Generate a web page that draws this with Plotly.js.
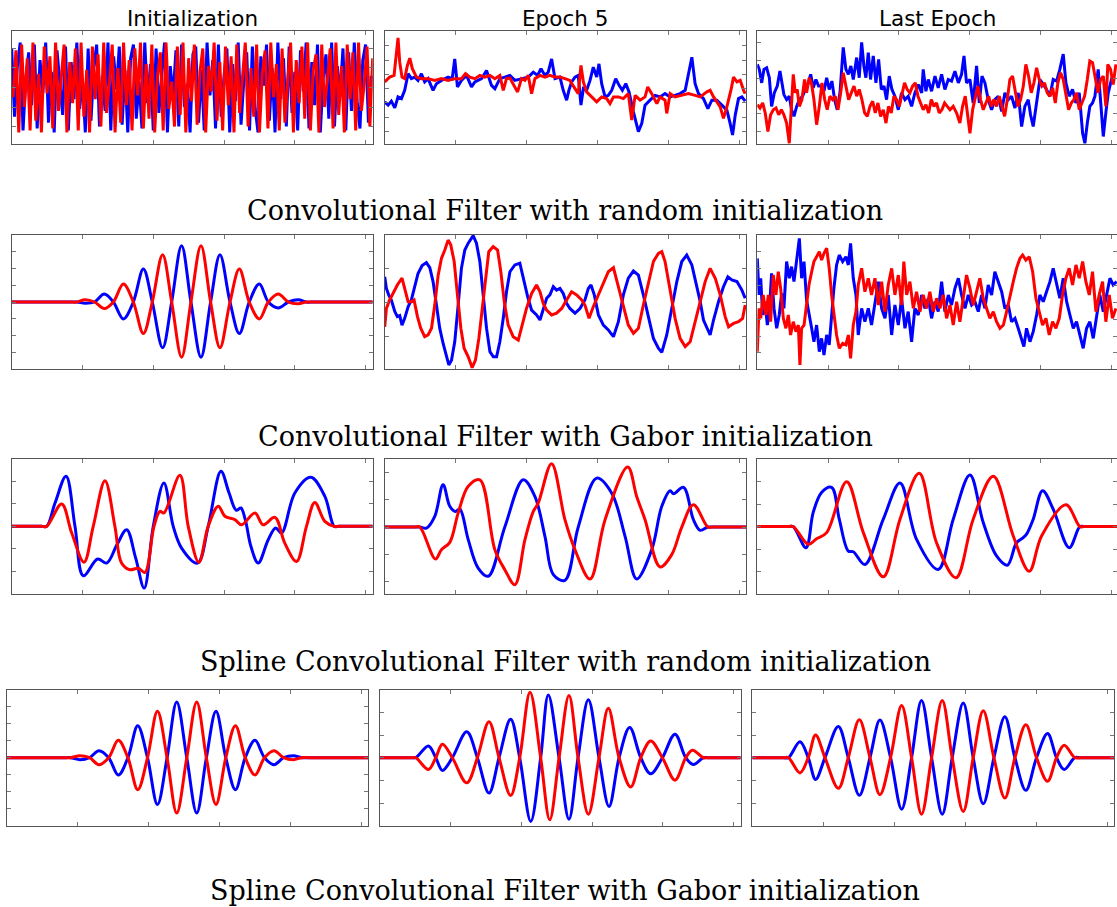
<!DOCTYPE html>
<html><head><meta charset="utf-8">
<script src="https://cdn.plot.ly/plotly-3.0.1.min.js"></script>
<style>html,body{margin:0;padding:0;background:#fff}#chart{width:1117px;height:907px}</style>
</head><body><div id="chart"></div>
<script>
// ---------------- labels ----------------
const columnTitles = ["Initialization", "Epoch 5", "Last Epoch"];
const rowCaptions = [
  "Convolutional Filter with random initialization",
  "Convolutional Filter with Gabor initialization",
  "Spline Convolutional Filter with random initialization",
  "Spline Convolutional Filter with Gabor initialization"
];
const xTickValues = [50, 100, 150, 200, 250];

// ---------------- Row 1: conv filter, random init ----------------
// Initialization: values read every 2 taps
const convRandInit_blue = [2.0,-1.5,1.1,2.3,-2.2,0.5,1.8,-0.9,2.2,-2.1,
 1.4,-0.3,2.3,-1.8,0.8,-2.3,1.9,0.2,-1.4,2.1,
 -2.2,1.3,-0.6,2.3,-1.1,0.4,-2.3,2.0,-1.7,1.0,
 2.2,-2.0,0.6,-1.2,2.3,-2.2,1.6,-0.1,2.1,-1.9,
 0.9,-2.3,1.5,2.2,-1.6,0.3,-2.1,2.3,-0.8,1.2,
 -2.2,2.0,-1.3,0.7,2.3,-2.3,1.1,-0.5,1.9,-2.0,
 2.2,-1.0,0.2,-2.3,1.7,2.1,-1.8,0.9,-2.2,2.3,
 -0.4,1.4,-2.1,2.2,-1.5,0.6,2.0,-2.3,1.2,-0.7,
 2.3,-1.9,0.4,1.8,-2.2,2.1,-1.1,-2.3,1.6,0.1,
 2.2,-1.7,1.0,-2.3,2.3,-0.6,1.5,-2.0,2.1,-1.3,
 0.8,-2.2,1.9,-0.2,2.3,-2.1,1.3,-0.9,2.2,-2.3,
 0.5,1.7,-1.6,2.3,-2.0,1.1,-0.4,2.0,-2.2,1.8,
 -1.2,2.3,-0.7,-2.1,1.4,2.2,-1.8,0.6];
const convRandInit_red = [-0.5,1.9,-2.3,2.2,-1.0,1.5,-2.2,2.3,-1.7,0.7,
 -2.3,2.1,-0.3,1.6,-2.1,2.3,-1.2,0.4,2.2,-2.3,
 1.3,-0.8,2.0,-2.2,2.3,-1.5,0.9,-2.3,2.1,-0.6,
 1.7,-2.0,2.3,-1.3,0.2,2.2,-2.3,1.0,-1.8,2.3,
 -0.9,1.4,-2.2,2.0,-0.4,2.3,-2.1,1.2,-1.6,2.2,
 -2.3,0.6,1.8,-2.2,2.3,-1.1,0.3,-2.0,2.1,-1.4,
 2.3,-2.3,1.5,-0.7,2.2,-1.9,0.8,2.0,-2.3,1.1,
 -0.2,2.3,-1.7,1.3,-2.2,2.1,-0.9,1.6,-2.3,2.2,
 -1.3,0.5,2.3,-2.0,1.0,-1.5,2.2,-2.3,0.7,1.9,
 -2.1,2.3,-0.5,1.2,-2.2,2.0,-1.8,0.3,2.3,-2.3,
 1.4,-0.8,2.1,-1.6,2.3,-2.2,0.9,1.7,-2.3,2.2,
 -1.0,0.4,2.0,-2.1,2.3,-1.4,1.1,-2.3,2.2,-0.6,
 1.8,-2.2,2.3,-1.2,0.2,2.1,-2.0,1.5];

const convRandEp5_bx = [0,2.4,4.7,7.1,9.4,11.8,14.1,16.5,18.8,21.2,23.5,25.9,28.2,30.6,34.1,36.5,40.0,44.7,47.6,49.4,51.3,54.1,57.7,61.2,63.6,68.3,71.8,75.3,77.7,81.2,84.7,88.3,91.8,96.5,101.2,104.8,107.8,110.2,113.0,115.3,117.7,120.1,123.6,125.9,128.3,129.9,131.8,134.2,136.5,138.4,140.1,142.4,144.8,147.1,149.5,151.1,153.0,155.4,157.7,160.1,162.9,165.3,167.6,170.0,172.3,175.4,178.9,181.3,183.6,187.1,190.7,194.2,197.7,201.3,204.8,208.3,211.9,214.7,216.6,218.9,221.3,224.8,227.9,230.7,234.2,237.8,241.3,243.6,245.3,247.2,249.5,251.9,254.2];
const convRandEp5_by = [-0.93,-1.16,-0.88,-1.35,-0.58,-0.70,-0.12,1.05,0.70,0.81,0.58,1.05,0.47,0.70,-0.12,0.35,0.58,0.81,0.70,2.09,0.12,0.58,0.93,0.12,0.47,0.70,1.28,0.23,0,0.70,0.81,0.93,0.58,0.70,0.81,1.16,0.93,1.40,0.93,1.16,2.09,0.70,0.81,-0.12,-0.81,-0.12,0.47,0.81,0.93,-1.16,0,-0.12,0.58,1.51,0.81,1.74,0.35,-0.58,-0.47,-0.12,0.70,0.23,-0.12,0.35,-0.23,-1.63,-3.02,-2.44,-1.16,-0.81,-0.47,-0.58,-0.35,-0.58,-0.47,-0.35,-0.12,1.16,2.21,0.35,-0.35,-0.70,-1.40,-0.81,-0.81,-1.16,-1.51,-2.44,-3.26,-1.86,-0.70,-0.58,-0.88];
const convRandEp5_rx = [0,3.5,6.6,8.2,9.4,10.6,12.2,14.1,16.0,17.7,19.5,22.4,25.9,30.6,35.3,40.0,44.7,49.4,54.1,57.0,60.0,63.6,67.1,70.6,74.2,77.7,81.2,83.6,85.9,88.3,90.6,93.7,96.5,98.9,101.2,103.6,105.9,109.5,113.0,116.5,120.1,123.6,127.1,130.6,134.2,136.5,138.4,140.1,142.4,145.9,149.5,153.0,156.5,158.9,161.3,164.8,168.3,171.8,174.2,176.6,180.1,183.6,185.5,188.3,191.9,194.2,197.7,198.9,201.3,204.8,209.5,214.2,218.9,222.5,227.2,229.5,231.9,234.2,236.6,238.9,241.3,244.4,246.0,248.4,250.7,253.1,254.2];
const convRandEp5_ry = [0.47,0.81,0.93,2.33,3.56,1.86,0.81,0.70,1.63,2.14,1.40,0.81,0.70,0.70,0.58,0.70,0.58,0.70,0.70,1.05,0.81,0.70,0.93,0.81,0.93,0.70,0.93,-0.12,0.70,0.74,0.35,-0.23,0.70,0.58,0.93,-0.35,0.70,0.93,0.81,0.93,0.81,0.81,0.70,0.58,0,-0.35,1.63,0.47,-0.23,-0.58,-0.93,-0.58,-0.70,-1.05,-0.58,-0.58,-0.70,-0.35,-2.21,-0.47,-0.81,-0.58,0.12,-0.35,-1.05,-0.58,-0.81,-1.74,-0.35,-0.58,-0.47,-0.35,-0.47,-0.58,-0.23,-0.12,-0.58,-0.93,-1.28,-2.09,-1.28,0,0.81,0.47,0.58,-0.12,-0.35];

const convRandLast_bx = [0,1.4,3.1,4.7,6.6,8.5,10.1,12.0,14.1,16.0,17.2,18.8,20.7,22.6,24.2,25.9,27.8,29.7,32.0,33.9,36.0,37.7,39.5,41.4,43.3,45.4,47.1,49.0,50.8,52.7,54.6,56.5,58.4,60.7,62.6,64.3,66.1,67.8,70.2,72.0,73.7,75.3,76.7,78.4,80.0,81.9,83.8,85.7,87.6,89.5,91.3,93.2,95.1,97.2,99.6,101.9,104.3,106.6,109.0,111.3,113.7,116.1,117.2,119.1,120.8,123.1,125.5,127.8,130.2,132.5,134.9,137.2,139.6,142.0,144.3,146.0,147.8,150.2,152.5,154.9,156.8,158.7,160.8,163.1,165.5,167.8,170.2,172.6,174.9,177.3,179.6,182.0,184.3,186.7,189.0,191.4,193.0,194.9,197.3,199.6,202.0,204.3,206.7,209.0,211.4,213.7,216.1,218.0,220.3,222.7,225.0,227.4,229.8,231.4,233.1,234.9,236.8,238.5,240.8,242.5,244.4,246.2,247.9,250.2,252.6];
const convRandLast_by = [1.30,1.02,0.26,1.02,1.11,0.55,-1.06,-0.30,0.08,0.92,0.36,-0.40,-0.68,-0.49,-1.25,-1.62,-1.06,-0.68,-0.49,-0.11,0.26,0.74,-0.02,0.45,0.08,0.08,-0.21,0.55,-0.11,0.36,-0.68,-1.25,-0.30,2.25,1.02,0.74,1.21,0.45,1.68,0.55,2.53,1.21,0.55,1.96,0.45,1.77,0.26,1.58,-0.11,0.08,-0.68,0.64,-0.11,-0.49,-1.25,-0.30,-0.68,-0.49,-1.06,-0.30,0.17,-0.30,1.02,-0.21,0.45,-0.21,0.64,-0.02,0.74,-0.11,0.45,0.36,0.92,0.26,0.74,1.77,0.26,0.45,-0.87,1.21,-0.87,0.64,0.26,-0.68,-1.25,-0.68,-0.49,-1.34,-0.30,-0.68,-0.49,-1.15,-0.30,-2.19,-1.06,-0.68,-1.53,-2.19,-0.68,0.45,0.17,-0.11,-0.49,0.45,0.36,1.02,1.87,0.26,-0.49,-0.11,-0.87,-0.30,-2.57,-3.13,-2.0,-1.06,-0.87,-0.49,1.02,-0.68,-2.75,-1.43,-0.30,0.45,0.36];
const convRandLast_rx = [0,1.9,3.8,5.6,7.5,9.4,11.3,13.2,15.1,17.0,18.8,20.7,22.6,24.0,25.4,26.8,28.2,29.7,31.5,33.4,34.8,36.7,38.4,40.0,41.9,43.8,45.7,47.6,49.4,51.3,53.2,55.1,57.0,58.9,60.7,62.6,64.5,66.4,68.3,70.2,72.0,73.9,75.8,77.7,79.6,81.5,83.3,85.2,87.1,89.0,90.9,92.7,94.6,96.5,98.4,100.3,102.2,104.0,105.9,107.8,109.7,111.6,113.5,115.3,117.2,119.1,121.0,122.9,124.8,126.6,128.5,130.4,132.3,134.2,136.1,138.4,140.8,143.1,145.0,146.9,148.8,150.2,152.1,154.0,155.8,157.7,159.6,161.5,163.4,165.3,167.1,169.0,170.9,172.8,174.7,176.6,178.4,180.3,182.2,184.1,186.0,187.9,189.7,191.6,193.5,195.4,197.3,199.2,201.0,202.9,204.8,206.7,208.6,210.5,212.3,214.2,216.1,218.0,219.9,221.8,223.6,225.5,227.4,229.3,231.2,233.1,234.9,236.8,238.7,240.6,242.5,244.4,246.2,247.6,249.5,251.4,253.3];
const convRandLast_ry = [-0.96,-1.15,-0.87,-1.43,-2.47,-1.53,-1.25,-1.15,-1.53,-1.25,-1.53,-2.0,-3.13,-1.25,0.74,-0.30,-0.11,-1.06,-0.68,0.45,-0.30,0.55,0.17,-0.68,-2.09,-1.06,0.26,-0.68,-1.25,-0.49,-0.68,-0.49,-1.25,-0.30,0.83,0.08,-0.68,-0.30,0.08,-0.49,-0.11,-0.68,-1.43,-1.62,-1.06,-0.77,-1.43,-0.87,-1.62,-1.25,-2.0,-1.06,-1.43,-0.49,-0.68,-1.06,-0.30,0.26,-0.11,-0.30,0.08,0.26,-0.49,-0.87,-1.25,-0.96,-1.43,-0.68,-1.06,-0.87,-1.43,-1.25,-0.87,-1.06,-1.25,-1.06,-1.43,-2.0,-1.06,-0.49,-1.62,-2.57,-1.25,-0.49,0.08,-0.68,-1.25,-0.87,-0.49,-1.06,-0.68,-1.06,-0.49,-1.06,-1.62,-0.68,0.45,0.64,-0.30,-1.06,-0.68,0.08,1.30,0.64,-0.30,0.26,1.11,0.45,0.08,0.26,-0.30,-0.49,-0.02,-0.87,0.26,0.83,0.45,-0.49,-1.25,-0.87,-0.68,-0.30,-1.25,-0.87,-0.49,0.45,1.49,1.40,0.45,-0.30,0.45,0.64,-1.06,1.30,1.02,0.17,1.30];

// ---------------- Row 2: conv filter, Gabor init ----------------
const convGaborInit_bx = [0,40,46,52,58.5,65.4,71.8,78.9,85.9,93.0,99.3,106.6,113.0,120.0,126.6,133.7,140.5,147.1,154.2,160.8,167.8,174.9,181.3,188.3,195.4,202.4,208,214,255];
const convGaborInit_by = [0,0,0,-0.08,0,0.47,0,-1.0,0,1.94,0,-2.7,0,3.31,0,-3.25,0,2.78,0,-1.86,0,1.06,0,-0.35,0,0.14,0,0,0];
const convGaborInit_rx = [0,40,46,51.8,58.5,65.4,71.8,78.9,85.9,93.0,99.3,106.6,113.0,120.0,126.6,133.7,140.5,147.1,154.2,160.8,167.8,174.9,181.3,188.3,195.4,202.4,208,214,255];
const convGaborInit_ry = [0,0,0,0.14,0,-0.39,0,1.06,0,-1.86,0,2.78,0,-3.25,0,3.31,0,-2.7,0,1.94,0,-1.0,0,0.47,0,-0.1,0,0,0];

const convGaborEp5_bx = [0,1.2,2.8,4.7,7.1,8.9,10.6,12.2,14.1,16.5,18.8,21.2,23.5,26.4,29.4,31.8,34.1,36.5,38.8,41.2,43.6,45.2,47.1,49.4,51.8,54.1,56.5,58.9,62.4,64.7,67.1,69.4,71.8,74.2,76.6,78.9,81.2,83.6,85.9,88.3,91.8,95.3,98.2,100.8,103.6,107.1,109.5,111.8,114.2,116.5,118.9,121.2,123.6,125.9,128.3,130.6,134.2,137.7,141.2,143.6,145.5,147.8,150.7,154.2,157.7,161.3,164.8,168.3,171.8,175.4,178.9,182.4,186.0,189.5,193.0,195.4,198.9,202.4,206.0,209.5,213.0,216.6,220.1,222.5,224.8,227.2,229.5,231.9,235.4,238.9,242.0,244.8,248.4,251.9,254.2];
const convGaborEp5_by = [0.76,0.42,0.23,0.08,-0.26,-0.41,-0.38,-0.66,-0.46,-0.12,0.08,0.47,0.86,1.09,1.18,1.03,0.62,-0.07,-0.75,-1.2,-1.59,-1.83,-1.69,-1.15,-0.07,1.01,1.55,1.75,1.97,1.75,1.21,0.23,-0.75,-1.44,-1.59,-1.59,-1.15,-0.46,0.32,0.91,1.11,1.16,0.62,0.18,-0.22,-0.36,-0.51,-0.17,0.13,0.23,0.47,0.37,0.42,0.27,-0.02,-0.17,-0.31,-0.17,0.08,0.42,0.52,0.23,-0.36,-0.66,-0.8,-1.0,-0.56,0.23,0.72,0.93,0.81,0.23,-0.46,-1.05,-1.34,-1.46,-0.95,-0.17,0.62,1.21,1.4,1.11,0.47,0.03,-0.51,-0.75,-0.95,-0.51,0.03,0.47,0.76,0.67,0.62,0.37,0.13];
const convGaborEp5_rx = [0,1.2,3.5,5.9,8.9,12.2,14.6,16.5,18.8,20.7,23.1,25.4,28.2,30.6,33.0,35.3,37.7,40.0,42.4,44.7,46.6,49.0,51.3,53.7,56.0,58.9,61.7,64.0,66.4,68.7,71.1,73.4,76.5,79.6,81.9,84.3,87.1,90.6,94.2,96.5,100.0,103.6,107.1,109.5,111.8,114.2,117.7,121.2,124.8,128.3,131.8,135.4,138.9,141.2,144.1,147.1,150.7,154.2,157.7,161.3,164.8,168.3,171.8,175.4,178.9,182.4,186.0,189.5,193.0,195.4,197.7,201.3,204.8,208.3,211.9,215.4,218.9,222.5,226.0,229.5,233.1,236.6,240.1,242.5,246.0,249.5,252.4,254.2];
const convGaborEp5_ry = [-0.71,-0.17,0.08,0.27,0.52,0.72,0.37,0.03,0.03,0.08,-0.41,-0.75,-1.0,-0.95,-0.75,-0.07,0.81,1.3,1.55,1.84,1.7,1.21,0.23,-0.75,-1.34,-1.59,-1.91,-1.69,-1.05,-0.17,0.72,1.5,1.65,1.55,0.91,0.03,-0.66,-1.0,-1.1,-0.75,-0.17,0.27,0.52,0.32,-0.02,-0.22,-0.36,-0.31,-0.17,0.08,0.32,0.23,0.08,-0.07,-0.46,-0.12,0.23,0.62,0.91,1.03,0.47,-0.17,-0.66,-0.9,-0.75,-0.07,0.62,1.21,1.45,1.5,1.21,0.42,-0.46,-1.05,-1.29,-1.15,-0.56,0.08,0.62,1.01,0.72,0.23,-0.41,-0.71,-0.61,-0.56,-0.46,-0.07];

const convGaborLast_bx = [0,1.2,2.4,3.8,5.4,7.1,8.5,10.1,11.8,13.7,15.5,17.2,18.8,20.7,22.6,24.2,25.9,27.8,29.7,31.3,33.0,34.8,36.5,38.4,40.0,41.9,43.8,45.4,47.1,49.0,50.8,52.5,54.1,56.0,57.9,60.3,62.6,64.3,65.9,67.8,69.7,71.3,73.7,76.0,78.4,80.7,83.1,85.5,87.8,90.2,92.5,94.9,97.2,99.6,101.9,104.3,106.6,109.0,111.3,113.7,116.1,118.4,120.8,123.1,125.5,127.8,130.2,132.5,134.9,137.2,139.6,142.0,144.3,146.7,149.0,151.4,153.7,156.1,158.4,160.8,163.1,165.5,167.8,170.2,172.6,174.9,177.3,179.6,182.0,184.3,186.7,188.3,190.2,192.6,194.9,197.3,199.6,202.0,204.3,206.7,209.0,211.4,213.7,216.1,218.5,220.8,223.2,225.5,227.9,230.2,232.6,234.9,237.3,239.6,242.0,244.4,246.7,249.1,251.4,253.8];
const convGaborLast_by = [2.61,0.44,1.43,-0.75,0.04,-1.35,-0.55,1.72,-0.36,-1.54,-0.75,0.53,-0.36,2.42,1.43,2.12,1.23,2.61,3.80,1.43,2.42,0.14,-0.55,-1.54,-2.34,-1.35,-2.93,-2.14,-3.13,-1.94,-2.53,-0.75,0.83,2.22,2.81,2.42,2.71,2.22,3.50,1.43,0.44,-1.94,-0.36,-1.15,-0.36,-1.35,-0.16,1.23,-0.36,-0.95,0.44,-1.94,-0.16,-1.35,0.24,-1.54,-0.55,-2.34,-0.36,-0.75,0.44,-0.36,0.24,-0.95,0.04,-0.55,1.23,-0.55,0.44,-0.16,0.83,1.43,0.44,-0.36,0.44,-0.16,0.04,-0.55,0.44,-0.36,1.03,0.44,1.82,1.23,0.63,-0.36,-0.16,-1.15,-0.95,-1.54,-2.14,-2.63,-1.54,-2.34,-1.74,-0.75,0.44,0.04,0.63,1.23,2.02,1.03,0.24,1.43,0.04,-0.75,-1.54,-1.15,-1.94,-2.73,-1.54,-1.15,-2.14,-0.75,0.44,-0.55,0.44,1.43,1.03,1.23];
const convGaborLast_rx = [0,1.2,2.4,4.2,6.1,7.8,9.4,11.3,13.2,14.8,16.5,18.4,20.2,21.9,23.5,25.4,27.3,29.0,30.1,31.3,33.0,34.8,36.5,38.4,40.0,41.9,43.8,45.4,47.1,49.0,50.8,52.5,54.1,56.0,57.9,60.3,62.6,64.3,65.9,67.8,69.7,71.3,73.7,76.0,78.4,80.7,83.1,85.5,87.8,90.2,92.5,94.9,97.2,99.6,101.9,103.5,105.5,107.8,110.2,112.5,114.9,117.2,119.6,121.9,124.3,126.7,129.0,131.4,133.7,136.1,138.4,140.8,143.1,145.5,147.8,150.2,152.5,154.9,157.2,159.6,162.0,164.3,166.7,169.0,171.4,173.8,176.1,178.5,180.8,183.1,185.5,187.4,189.7,192.1,194.5,196.8,199.2,201.5,203.9,206.2,208.6,210.9,213.3,215.6,218.0,220.3,222.7,225.1,227.4,229.8,232.1,234.5,236.8,239.2,241.5,243.9,246.2,248.6,250.9,253.3];
const convGaborLast_ry = [-2.93,-0.36,-0.95,0.44,-0.75,0.44,-1.15,1.62,0.44,1.82,0.83,-0.95,-1.54,-0.75,-1.94,-1.15,-1.74,-1.35,-3.72,-1.54,-1.35,-0.16,1.03,1.82,2.42,2.71,3.01,2.51,2.91,3.21,2.02,0.44,-0.55,-1.94,-2.73,-2.44,-2.53,-1.94,-3.33,-1.35,-0.55,1.03,2.02,0.63,1.43,0.44,1.43,-0.16,1.23,-0.55,1.03,2.02,0.44,1.62,-0.16,2.42,0.44,1.23,-0.36,0.63,-0.55,0.44,-0.36,0.63,-0.55,0.24,-0.36,0.44,-0.95,-0.16,-1.35,0.04,-1.15,0.44,1.62,0.83,-0.16,0.63,1.43,0.24,-0.36,-0.95,-0.55,-1.15,-1.54,-1.35,-0.55,0.44,1.23,2.02,2.61,2.81,2.51,2.71,1.82,0.24,-0.55,-1.35,-0.95,-1.94,-1.15,-1.54,-0.95,0.44,1.43,2.02,1.03,2.22,1.43,2.42,1.23,0.44,1.82,-0.55,0.44,1.23,-1.15,0.44,-0.95,-0.36];

// ---------------- Row 3: spline conv filter, random init ----------------
const splineRandInit_bx = [0,21,24.7,30.6,38.4,44.7,50.6,60.7,67.1,74.5,81.2,87.5,93.6,100,107.5,114.1,120,131.3,138.8,147.8,153.5,158.6,161.9,165,169,174.1,181.2,186.4,190.6,200,211.3,221.2,227.8,231,255];
const splineRandInit_by = [0,0,0,1.04,2.24,0,-2.21,-1.46,-1.64,-0.8,-0.15,-1.4,-2.76,0,1.94,0,-0.97,-1.64,0,2.46,1.5,0.72,0.82,0.3,-0.9,-1.64,-0.6,-0.07,-0.30,1.49,2.19,1.34,0,0,0];
const splineRandInit_rx = [0,21,24.7,35.3,42.4,51.1,57.6,65.9,72.9,77.6,83.5,89.4,94.1,100.5,104.7,107.5,118.8,124.7,132.2,138.8,145.9,150.6,157.6,162.4,171.8,177.6,185.9,192.9,201.2,208.2,214.1,221.2,227.8,231,255];
const splineRandInit_ry = [0,0,0,1.0,-0.3,-1.6,0,2.04,0,-1.64,-1.94,-1.87,-2.06,0,0.67,0.6,2.28,0,-1.61,0,0.9,0.45,0.3,0.07,0.6,0.07,0.4,-0.75,-1.57,0,1.07,0.22,0,0,0];

const splineRandEp5_bx = [0,21,24.7,29.4,35.3,41.2,45.9,49.9,53,58.9,65.9,73,84.7,97.7,105.9,113,118.9,127.1,136.5,149.5,160.1,169.5,177.7,188.3,195.4,201.3,203.6,210.7,217.7,222.5,227.9,231,255];
const splineRandEp5_by = [0,0,0,-0.04,0.39,1.55,0.76,0.57,0.66,-0.46,-1.5,-1.8,0,1.73,1.12,-0.34,-1.74,-1.95,0,1.79,1.24,-0.34,-1.9,-0.83,0.76,1.33,1.22,1.45,0.27,-0.12,0,0,0];
const splineRandEp5_rx = [0,21,24.7,35.8,40,45.9,51.8,58.9,67.1,77.7,84.7,91.8,98.9,104.8,108.3,117.7,127.1,134.2,144.8,155.4,171.4,177.7,183.6,194.2,202.4,209.5,217.7,227.9,231,255];
const splineRandEp5_ry = [0,0,0,-1.17,-0.83,-0.56,0.51,1.49,1.73,-0.83,-1.56,-2.11,-0.46,0.57,0.88,2.32,0.27,-0.83,-1.9,0.27,2.2,1.12,0.27,-1.46,-1.01,0,0.82,0,0,0];

const splineRandLast_bx = [0,22,25.4,34.4,39.5,45.4,52.5,57.9,64.3,67.8,76,89,100.8,112.5,127.8,138.4,150.2,159.6,169,176.6,183.1,187.9,190.2,194.9,201.5,209,220.3,227.9,231,255];
const splineRandLast_by = [0,0,0,-0.94,0.63,1.52,1.75,0.33,-1.09,-1.12,-1.69,0.33,1.94,-0.57,-1.91,0.33,2.3,0.18,-1.31,-1.72,-0.72,-0.49,-0.34,0.33,1.6,0.78,-0.94,0,0,0];
const splineRandLast_rx = [0,22,25.4,36,41.9,49,63.1,74.9,89,100.8,114.4,126.6,140.3,152.5,166.7,180.8,192.1,200.8,218,227.9,231,255];
const splineRandLast_ry = [0,0,0,-0.79,-0.54,-0.27,2.0,-0.27,-2.24,0.33,2.37,-0.72,-2.28,0.33,2.24,-0.42,-1.99,-0.42,0.97,0,0,0];

// ---------------- Row 4: spline conv filter, Gabor init ----------------
const splineGaborInit_x = [0,40,45,51.7,58.4,65.1,71.9,78.7,85.5,92.4,99.3,106.3,113.1,119.9,127.0,134.0,140.8,147.6,154.5,161.3,168.2,175.1,181.8,188.5,195.3,202.2,208,214,255];
const splineGaborInit_by = [0,0,0,-0.12,0,0.41,0,-1.02,0,1.88,0,-2.75,0,3.27,0,-3.25,0,2.73,0,-1.88,0,1.02,0,-0.41,0,0.12,0,0,0];
const splineGaborInit_ry = [0,0,0,0.12,0,-0.41,0,1.02,0,-1.88,0,2.73,0,-3.25,0,3.27,0,-2.75,0,1.88,0,-1.02,0,0.41,0,-0.12,0,0,0];

const splineGaborEp5_bx = [0,22,25.4,34.4,39.6,44.3,51.3,61.5,69.0,77.2,84.3,92.5,98.9,106.7,113.7,119.1,126.7,133.7,140.1,147.4,154.9,162.0,169.1,176.6,184.4,191.4,199.7,208.6,216.2,221.6,228.6,232,255];
const splineGaborEp5_by = [0,0,0,0.52,0,-0.56,0,1.14,0,-1.56,0,1.70,0,-2.81,0,2.77,0,-2.71,0,2.56,0,-2.15,0,1.33,0,-0.71,0,1.04,0,-0.30,0,0,0];
const splineGaborEp5_rx = [0,22,25.4,34.4,39.6,44.3,51.3,61.5,69.0,77.2,84.3,92.5,98.9,106.2,113.7,120.1,126.7,133.7,140.1,147.4,154.9,161.5,169.1,177.3,184.4,191.4,199.7,208.6,216.2,220.9,228.6,232,255];
const splineGaborEp5_ry = [0,0,0,-0.52,0,0.59,0,-1.11,0,1.59,0,-1.67,0,2.89,0,-2.74,0,2.74,0,-2.49,0,2.18,0,-1.29,0,0.74,0,-0.99,0,0.33,0,0,0];

const splineGaborLast_x = [0,22,25.4,33.6,39.4,44.6,51.2,60.6,67.6,75.4,82.9,89.9,97.4,105.2,112.2,119.2,126.3,133.8,140.8,148.6,155.6,162.7,170.2,177.9,185.0,192.7,200.2,208.0,214.3,219.7,227.2,231,255];
const splineGaborLast_by = [0,0,0,0.70,0,-0.96,0,1.38,0,-1.66,0,1.66,0,-2.27,0,2.52,0,-2.49,0,2.41,0,-2.03,0,1.81,0,-1.44,0,1.07,0,-0.52,0,0,0];
const splineGaborLast_ry = [0,0,0,-0.67,0,1.0,0,-1.35,0,1.67,0,-1.63,0,2.30,0,-2.49,0,2.52,0,-2.37,0,2.07,0,-1.78,0,1.45,0,-1.04,0,0.55,0,0,0];

// ---------------- build figure ----------------
const BLUE = '#0000ff', RED = '#ff0000';
const W = 1117, H = 907;
const colPxTop = [[11.7, 372.7], [384.7, 746.3], [757.3, 1118.3]];
const colPxBottom = [[6.7, 368.3], [379.7, 740.7], [752.3, 1114.3]];
const rowPx = [[30.7, 144.3], [235, 369], [459, 593.7], [689.7, 825.7]];

function lin(x, y) { return {x: x, y: y, shape: 'linear'}; }
function spl(x, y) { return {x: x, y: y, shape: 'spline'}; }

const panels = [
  {r:0,c:0, yr:[-2.91,2.91], t0:0, dt:1, blue:{x0:0, dx:2, y:convRandInit_blue}, red:{x0:1, dx:2, y:convRandInit_red}},
  {r:0,c:1, yr:[-3.91,4.07], t0:0, dt:1, blue:lin(convRandEp5_bx, convRandEp5_by), red:lin(convRandEp5_rx, convRandEp5_ry)},
  {r:0,c:2, yr:[-3.19,3.19], t0:0.53, dt:1, blue:lin(convRandLast_bx, convRandLast_by), red:lin(convRandLast_rx, convRandLast_ry)},
  {r:1,c:0, yr:[-3.95,3.95], t0:0, dt:1, blue:spl(convGaborInit_bx, convGaborInit_by), red:spl(convGaborInit_rx, convGaborInit_ry)},
  {r:1,c:1, yr:[-1.95,1.99], t0:0, dt:1, blue:lin(convGaborEp5_bx, convGaborEp5_by), red:lin(convGaborEp5_rx, convGaborEp5_ry)},
  {r:1,c:2, yr:[-3.96,4.0], t0:0, dt:1, blue:lin(convGaborLast_bx, convGaborLast_by), red:lin(convGaborLast_rx, convGaborLast_ry)},
  {r:2,c:0, yr:[-3.01,3.01], t0:0, dt:1, blue:spl(splineRandInit_bx, splineRandInit_by), red:spl(splineRandInit_rx, splineRandInit_ry)},
  {r:2,c:1, yr:[-2.44,2.49], t0:0, dt:1, blue:spl(splineRandEp5_bx, splineRandEp5_by), red:spl(splineRandEp5_rx, splineRandEp5_ry)},
  {r:2,c:2, yr:[-2.99,3.01], t0:0, dt:1, blue:spl(splineRandLast_bx, splineRandLast_by), red:spl(splineRandLast_rx, splineRandLast_ry)},
  {r:3,c:0, yr:[-4,4], t0:0, dt:1, blue:spl(splineGaborInit_x, splineGaborInit_by), red:spl(splineGaborInit_x, splineGaborInit_ry)},
  {r:3,c:1, yr:[-3,3], t0:0, dt:1, blue:spl(splineGaborEp5_bx, splineGaborEp5_by), red:spl(splineGaborEp5_rx, splineGaborEp5_ry)},
  {r:3,c:2, yr:[-3,3], t0:0, dt:1, blue:spl(splineGaborLast_x, splineGaborLast_by), red:spl(splineGaborLast_x, splineGaborLast_ry)}
];

const traces = [];
const layout = {
  width: W, height: H, margin: {l:0, r:0, t:0, b:0},
  paper_bgcolor: '#fff', plot_bgcolor: '#fff', showlegend: false,
  annotations: []
};

panels.forEach((p, i) => {
  const k = i + 1, sfx = k === 1 ? '' : String(k);
  const cols = p.r === 3 ? colPxBottom : colPxTop;
  const cx = cols[p.c];
  const rightPx = Math.min(cx[1], W);
  const xmax = 255 * (rightPx - cx[0]) / (cx[1] - cx[0]);
  const ry = rowPx[p.r];
  layout['xaxis' + sfx] = {
    domain: [cx[0] / W, rightPx / W], range: [0, xmax], anchor: 'y' + sfx,
    tickmode: 'array', tickvals: xTickValues, ticks: 'inside', ticklen: 4, tickwidth: 1, tickcolor: '#777',
    showticklabels: false, showline: true, linecolor: '#555', linewidth: 1, mirror: 'ticks',
    showgrid: false, zeroline: false, fixedrange: true
  };
  layout['yaxis' + sfx] = {
    domain: [1 - ry[1] / H, 1 - ry[0] / H], range: p.yr, anchor: 'x' + sfx,
    tickmode: 'linear', tick0: p.t0, dtick: p.dt, ticks: 'inside', ticklen: 4, tickwidth: 1, tickcolor: '#777',
    showticklabels: false, showline: true, linecolor: '#555', linewidth: 1, mirror: 'ticks',
    showgrid: false, zeroline: false, fixedrange: true
  };
  [[p.blue, BLUE], [p.red, RED]].forEach(([s, col]) => {
    const t = {type: 'scatter', mode: 'lines', xaxis: 'x' + sfx, yaxis: 'y' + sfx, hoverinfo: 'skip',
      line: {color: col, width: 3, shape: s.shape || 'linear', smoothing: 1}};
    if (s.x) { t.x = s.x; } else { t.x0 = s.x0; t.dx = s.dx; }
    t.y = s.y;
    traces.push(t);
  });
});

// column titles
columnTitles.forEach((txt, c) => {
  const cx = colPxTop[c];
  layout.annotations.push({
    text: txt, xref: 'paper', yref: 'paper', x: ((cx[0] + cx[1]) / 2) / W, y: 1 - 19 / H,
    xanchor: 'center', yanchor: 'middle', showarrow: false,
    font: {family: 'DejaVu Sans', size: 21.5, color: '#000'}
  });
});
// row captions
const captionY = [210, 436, 661, 890];
rowCaptions.forEach((txt, r) => {
  layout.annotations.push({
    text: txt, xref: 'paper', yref: 'paper', x: 565 / W, y: 1 - captionY[r] / H,
    xanchor: 'center', yanchor: 'middle', showarrow: false,
    font: {family: 'DejaVu Serif', size: 27, color: '#000'}
  });
});

Plotly.newPlot('chart', traces, layout, {staticPlot: true, displayModeBar: false});
</script></body></html>
